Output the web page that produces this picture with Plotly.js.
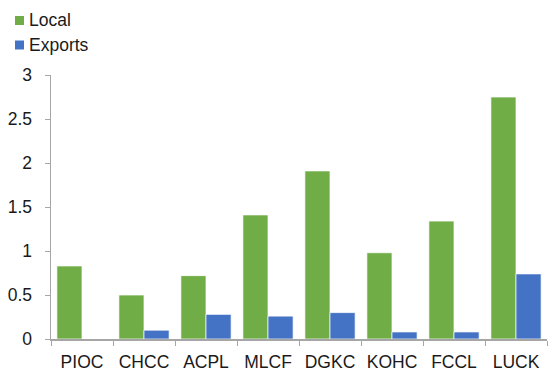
<!DOCTYPE html>
<html><head><meta charset="utf-8">
<script src="https://cdn.plot.ly/plotly-3.0.1.min.js"></script>
<style>html,body{margin:0;padding:0;background:#fff}#c{width:555px;height:371px}</style>
</head><body><div id="c"></div>
<script>
const categories = ["PIOC","CHCC","ACPL","MLCF","DGKC","KOHC","FCCL","LUCK"];
const localSales = [0.83,0.50,0.72,1.41,1.91,0.98,1.34,2.75];
const exportSales = [0.00,0.10,0.28,0.26,0.30,0.08,0.08,0.74];
const yTicks = [0,0.5,1,1.5,2,2.5,3];
const seriesNames = ["Local","Exports"];
const seriesColors = ["#70AD47","#4472C4"];

const font = {family:"Liberation Sans, Arial, sans-serif", size:17.5, color:"#1a1a1a"};
const traces = [localSales, exportSales].map((v,i)=>({
  type:"bar", name:seriesNames[i], x:categories, y:v, showlegend:false,
  marker:{color:seriesColors[i], line:{color:"rgba(255,255,255,0.7)", width:1}}
}));

// legend drawn with shapes + annotations (pixel positions converted to paper coords)
const L=51, R=8, T=75, B=32, W=555, H=371;
const pw=W-L-R, ph=H-T-B;
const px = x => (x-L)/pw;
const py = y => (H-B-y)/ph;
const legendRows = [20.5, 45];
const shapes = legendRows.map((yc,i)=>({
  type:"rect", xref:"paper", yref:"paper",
  x0:px(15), x1:px(24), y0:py(yc+4.5), y1:py(yc-4.5),
  fillcolor:seriesColors[i], line:{width:0}
}));
const annotations = legendRows.map((yc,i)=>({
  xref:"paper", yref:"paper", x:px(27), y:py(yc), xanchor:"left", yanchor:"middle",
  text:seriesNames[i], showarrow:false, font:font
}));

const layout = {
  width:W, height:H,
  margin:{l:L, r:R, t:T, b:B},
  paper_bgcolor:"#fff", plot_bgcolor:"#fff",
  font:font,
  barmode:"group", bargap:0.19, bargroupgap:0,
  showlegend:false,
  shapes:shapes, annotations:annotations,
  xaxis:{type:"category", showline:true, linecolor:"#a6a6a6", linewidth:1.5,
         ticks:"outside", tickson:"boundaries", ticklen:5, tickcolor:"#a6a6a6",
         showgrid:false, zeroline:false, tickfont:font, ticklabelstandoff:6, fixedrange:true},
  yaxis:{range:[0,3], tickvals:yTicks, ticktext:yTicks.map(String),
         showline:true, linecolor:"#a6a6a6", linewidth:1.5,
         ticks:"outside", ticklen:5, tickcolor:"#a6a6a6",
         showgrid:false, zeroline:false, tickfont:font, ticklabelstandoff:9, fixedrange:true}
};
Plotly.newPlot("c", traces, layout, {displayModeBar:false, staticPlot:true});
</script></body></html>
